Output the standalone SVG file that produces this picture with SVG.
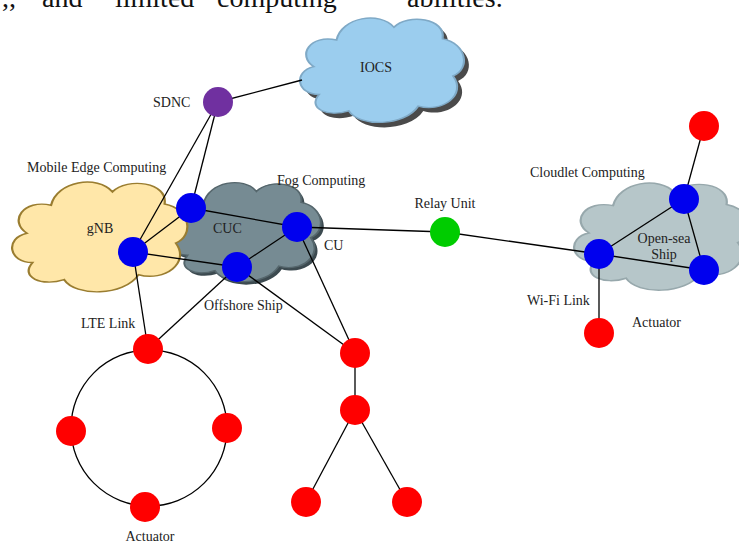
<svg xmlns="http://www.w3.org/2000/svg" width="739" height="543" viewBox="0 0 739 543">
<style>
text{font-family:"Liberation Serif","Times New Roman",serif;font-size:14px;fill:#222}
.hdr{font-size:28px;fill:#111}
.e{stroke:#000;stroke-width:1.3;fill:none}
.b{fill:#0000ee}
.r{fill:#ff0000}
.cl{vector-effect:non-scaling-stroke;stroke-width:1.2}
</style>
<defs>
<path id="cloud" d="M15,72 C2,72 0,52 12,48 C2,38 10,20 25,25 C28,5 50,0 58,14 C66,2 88,6 86,24 C100,28 102,50 92,56 C100,72 86,88 72,82 C64,100 38,100 32,86 C20,92 8,84 15,72 Z"/>
</defs>
<g id="header">
<text class="hdr" x="2" y="7">,,</text>
<text class="hdr" x="42" y="7">and</text>
<text class="hdr" x="115" y="7">limited</text>
<text class="hdr" x="217" y="7">computing</text>
<text class="hdr" x="407" y="7">abilities.</text>
</g>
<g id="cloud-iocs">
<use href="#cloud" transform="translate(298,16) scale(1.74,1.16)" fill="#4a4a4a"/>
<use href="#cloud" class="cl" transform="translate(293,11) scale(1.74,1.16)" fill="#9bcdee" stroke="#7fa9c6"/>
<text x="376" y="72" text-anchor="middle">IOCS</text>
</g>
<g id="cloud-fog">
<use href="#cloud" transform="translate(166.6,179) scale(1.6,1.1)" fill="#3c4a50"/>
<use href="#cloud" class="cl" transform="translate(163.6,176) scale(1.6,1.1)" fill="#768b93" stroke="#55666c"/>
</g>
<g id="cloud-mec">
<use href="#cloud" class="cl" transform="translate(4.6,174.7) scale(1.86,1.22)" fill="#ffe7a9" stroke="#9a7d30"/>
<text x="100" y="233" text-anchor="middle">gNB</text>
</g>
<g id="cloud-cloudlet">
<use href="#cloud" class="cl" transform="translate(566.6,175.9) scale(1.86,1.19)" fill="#b6c6c9" stroke="#97a8ac"/>
</g>
<g id="connectors">
<line class="e" x1="218" y1="102" x2="302" y2="80"/>
<line class="e" x1="218" y1="102" x2="133" y2="252"/>
<line class="e" x1="218" y1="102" x2="191" y2="208"/>
<line class="e" x1="133" y1="252" x2="191" y2="208"/>
<line class="e" x1="133" y1="252" x2="237" y2="267"/>
<line class="e" x1="191" y1="208" x2="297" y2="227"/>
<line class="e" x1="297" y1="227" x2="237" y2="267"/>
<line class="e" x1="297" y1="227" x2="445" y2="232"/>
<line class="e" x1="445" y1="232" x2="599" y2="254"/>
<line class="e" x1="297" y1="227" x2="355" y2="353"/>
<line class="e" x1="237" y1="267" x2="355" y2="353"/>
<line class="e" x1="237" y1="267" x2="148" y2="349"/>
<line class="e" x1="133" y1="252" x2="148" y2="349"/>
<line class="e" x1="355" y1="353" x2="355" y2="410"/>
<line class="e" x1="355" y1="410" x2="306" y2="502"/>
<line class="e" x1="355" y1="410" x2="407" y2="502"/>
<line class="e" x1="599" y1="254" x2="684" y2="199"/>
<line class="e" x1="599" y1="254" x2="704" y2="270"/>
<line class="e" x1="684" y1="199" x2="704" y2="270"/>
<line class="e" x1="684" y1="199" x2="704" y2="126"/>
<line class="e" x1="599" y1="254" x2="599" y2="333"/>
<circle class="e" cx="149" cy="428" r="78"/>
</g>
<g id="labels">
<text x="153" y="107">SDNC</text>
<text x="27" y="172">Mobile Edge Computing</text>
<text x="277" y="185">Fog Computing</text>
<text x="213" y="233">CUC</text>
<text x="324" y="250">CU</text>
<text x="445" y="208" text-anchor="middle">Relay Unit</text>
<text x="530" y="177">Cloudlet Computing</text>
<text x="664" y="243" text-anchor="middle">Open-sea</text>
<text x="664" y="259" text-anchor="middle">Ship</text>
<text x="527" y="305">Wi-Fi Link</text>
<text x="632" y="327">Actuator</text>
<text x="81" y="328">LTE Link</text>
<text x="204" y="310">Offshore Ship</text>
<text x="150" y="541" text-anchor="middle">Actuator</text>
</g>
<g id="node-sdnc"><circle cx="218" cy="102" r="15" fill="#7030a0"/></g>
<g id="node-relay"><circle cx="445" cy="232" r="15" fill="#00cc00"/></g>
<g id="node-gnb"><circle class="b" cx="133" cy="252" r="15"/></g>
<g id="node-cuc"><circle class="b" cx="191" cy="208" r="15"/></g>
<g id="node-cu"><circle class="b" cx="297" cy="227" r="15"/></g>
<g id="node-offshore"><circle class="b" cx="237" cy="267" r="15"/></g>
<g id="node-ship1"><circle class="b" cx="599" cy="254" r="15"/></g>
<g id="node-ship2"><circle class="b" cx="684" cy="199" r="15"/></g>
<g id="node-ship3"><circle class="b" cx="704" cy="270" r="15"/></g>
<g id="node-act-tr"><circle class="r" cx="704" cy="126" r="15"/></g>
<g id="node-act-wifi"><circle class="r" cx="599" cy="333" r="15"/></g>
<g id="node-ring-top"><circle class="r" cx="148" cy="349" r="15"/></g>
<g id="node-ring-left"><circle class="r" cx="71" cy="431" r="15"/></g>
<g id="node-ring-right"><circle class="r" cx="227" cy="428" r="15"/></g>
<g id="node-ring-bottom"><circle class="r" cx="145" cy="507" r="15"/></g>
<g id="node-tree-top"><circle class="r" cx="355" cy="353" r="15"/></g>
<g id="node-tree-mid"><circle class="r" cx="355" cy="410" r="15"/></g>
<g id="node-tree-left"><circle class="r" cx="306" cy="502" r="15"/></g>
<g id="node-tree-right"><circle class="r" cx="407" cy="502" r="15"/></g>
</svg>
